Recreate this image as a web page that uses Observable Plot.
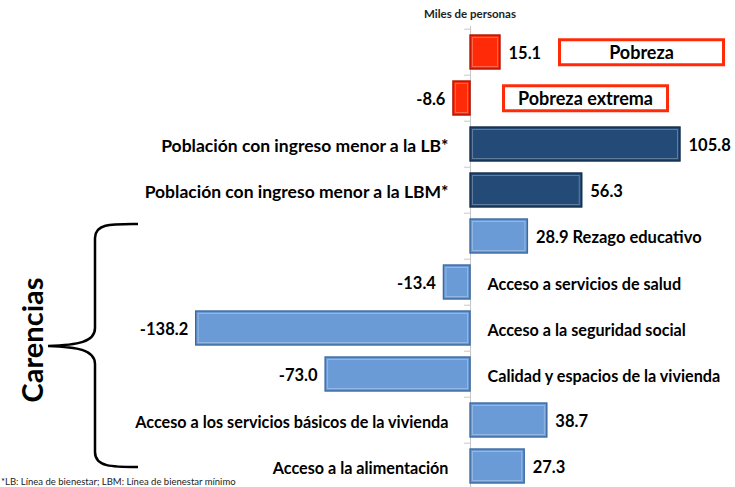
<!DOCTYPE html>
<html>
<head>
<meta charset="utf-8">
<script src="https://cdn.jsdelivr.net/npm/d3@7"></script>
<script src="https://cdn.jsdelivr.net/npm/@observablehq/plot@0.6"></script>
<style>
  html, body { margin: 0; padding: 0; background: #fff; }
  #chart { width: 735px; height: 487px; overflow: hidden; position: relative; }
</style>
</head>
<body>
<div id="chart"></div>
<script>
const categories = [
  "Pobreza",
  "Pobreza extrema",
  "Población con ingreso menor a la LB*",
  "Población con ingreso menor a la LBM*",
  "Rezago educativo",
  "Acceso a servicios de salud",
  "Acceso a la seguridad social",
  "Calidad y espacios de la vivienda",
  "Acceso a los servicios básicos de la vivienda",
  "Acceso a la alimentación"
];
const values = [15.1, -8.6, 105.8, 56.3, 28.9, -13.4, -138.2, -73.0, 38.7, 27.3];
const groups = ["Pobreza", "Pobreza", "Ingreso", "Ingreso", "Carencia", "Carencia", "Carencia", "Carencia", "Carencia", "Carencia"];
const labelSide = ["box", "box", "left", "left", "after", "right", "right", "right", "left", "left"];
const unitLabel = "Miles de personas";
const braceLabel = "Carencias";
const footnote = "*LB: Línea de bienestar; LBM: Línea de bienestar mínimo";

const data = categories.map((c, i) => ({cat: c, value: values[i], group: groups[i], side: labelSide[i]}));

const FONT = "Lato, 'Open Sans', sans-serif";
const fmt = v => v.toFixed(1);
const edge = {Pobreza: "#b01000", Ingreso: "#112b48", Carencia: "#3b69a0"};

const plot = Plot.plot({
  width: 735,
  height: 487,
  marginTop: 26,
  marginBottom: 0,
  marginLeft: 0,
  marginRight: 0,
  style: {fontFamily: FONT, background: "transparent"},
  x: {domain: [-236.8, 133.5], axis: null},
  y: {domain: categories, range: [25.7, 491.7], padding: 0, axis: null},
  color: {domain: ["Pobreza", "Ingreso", "Carencia"], range: ["#ff2a08", "#244b78", "#6a9bd6"]},
  marks: [
    Plot.ruleX([0], {stroke: "#c8c8c8", strokeWidth: 1}),
    Plot.ruleY(data, {y: "cat", dy: -23.3, x1: -3, x2: 0, stroke: "#c8c8c8"}),
    Plot.barX(data, {
      x: "value", y: "cat", fill: "group",
      insetTop: 6, insetBottom: 6,
      stroke: d => edge[d.group],
      strokeWidth: 1.4
    }),
    Plot.barX(data, {
      x: "value", y: "cat",
      insetTop: 8.5, insetBottom: 8.5, insetLeft: 2.5, insetRight: 2.5,
      fill: "none", stroke: "#ffffff", strokeOpacity: 0.28, strokeWidth: 1
    }),
    // value labels
    Plot.text(data.filter(d => d.value >= 0), {
      x: "value", y: "cat",
      text: d => d.side === "after" ? `${fmt(d.value)} ${d.cat}` : fmt(d.value),
      textAnchor: "start", dx: 8, dy: 1,
      fontSize: 16.5, fontWeight: "bold", fill: "#000"
    }),
    Plot.text(data.filter(d => d.value < 0), {
      x: "value", y: "cat", text: d => fmt(d.value),
      textAnchor: "end", dx: -8, dy: 1,
      fontSize: 16.5, fontWeight: "bold", fill: "#000"
    }),
    // category labels left of axis (income lines)
    Plot.text(data.filter(d => d.side === "left" && d.group === "Ingreso"), {
      x: 0, y: "cat", text: "cat", textAnchor: "end", dx: -22, dy: 2,
      fontSize: 17.5, fontWeight: "bold", fill: "#000"
    }),
    Plot.text(data.filter(d => d.side === "left" && d.group !== "Ingreso"), {
      x: 0, y: "cat", text: "cat", textAnchor: "end", dx: -22, dy: 2,
      fontSize: 16.2, fontWeight: "bold", fill: "#000"
    }),
    // category labels right of axis
    Plot.text(data.filter(d => d.side === "right"), {
      x: 0, y: "cat", text: "cat", textAnchor: "start", dx: 17, dy: 2,
      fontSize: 16.2, fontWeight: "bold", fill: "#000"
    }),
    // boxed labels
    Plot.text(data.filter(d => d.cat === "Pobreza"), {
      x: 0, y: "cat", text: "cat", textAnchor: "middle", dx: 171, dy: 1,
      fontSize: 18, fontWeight: "bold", fill: "#000", className: "boxed"
    }),
    Plot.text(data.filter(d => d.cat === "Pobreza extrema"), {
      x: 0, y: "cat", text: "cat", textAnchor: "middle", dx: 115, dy: 1,
      fontSize: 18, fontWeight: "bold", fill: "#000", className: "boxed"
    })
  ]
});

document.getElementById("chart").appendChild(plot);

const svg = d3.select(plot);

// boxes around the Pobreza labels
svg.selectAll("g.boxed text").each(function() {
  const b = this.getBBox();
  const cx = b.x + b.width / 2, cy = b.y + b.height / 2;
  d3.select(this.parentNode).insert("rect", "text")
    .attr("transform", this.getAttribute("transform"))
    .attr("x", cx - 82).attr("y", cy - 12.5)
    .attr("width", 164).attr("height", 25)
    .attr("fill", "#fff").attr("stroke", "#ff2a08").attr("stroke-width", 3);
});

// unit label
svg.append("text")
  .attr("x", 470).attr("y", 18).attr("text-anchor", "middle")
  .attr("font-family", FONT).attr("font-size", 11.5).attr("font-weight", "bold")
  .attr("fill", "#222").text(unitLabel);

// brace
svg.append("path")
  .attr("d", "M138,224 C112,224 95,223 95,238 L95,328 C95,342 78,345 48,346 C78,347 95,350 95,364 L95,452 C95,467 112,467 138,467")
  .attr("fill", "none").attr("stroke", "#000").attr("stroke-width", 2.5);

svg.append("text")
  .attr("transform", "translate(43,340) rotate(-90)")
  .attr("text-anchor", "middle")
  .attr("font-family", FONT).attr("font-size", 29).attr("font-weight", "bold")
  .attr("fill", "#000").text(braceLabel);

svg.append("text")
  .attr("x", 1).attr("y", 485).attr("text-anchor", "start")
  .attr("font-family", FONT).attr("font-size", 9.5)
  .attr("fill", "#222").text(footnote);
</script>
</body>
</html>
